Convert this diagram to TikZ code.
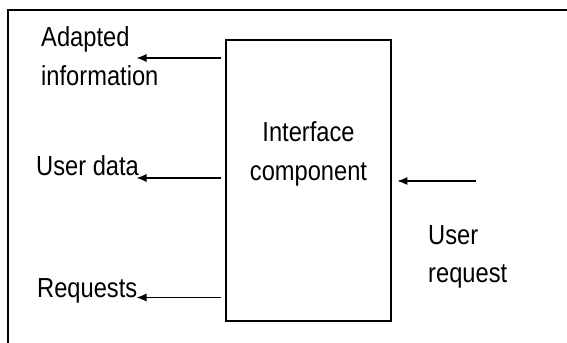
\documentclass[tikz,border=0pt]{standalone}
\usepackage{fontspec}
\setmainfont{Liberation Sans}[FakeStretch=0.86]
\usetikzlibrary{arrows.meta}
% two-line labels whose reference point is the baseline of the first line
\newcommand\stackleft[2]{\vtop{\baselineskip=33pt\hbox{#1}\hbox{#2}}}
\newcommand\stackmid[2]{\vtop{\baselineskip=33pt\halign{\hfil##\hfil\cr#1\cr#2\cr}}}
\begin{document}
\begin{tikzpicture}[x=0.03cm, y=-0.03cm,
  frame/.style={line width=1.6pt},
  unitbox/.style={draw, line width=1.6pt, minimum width=4.95cm, minimum height=8.43cm, inner sep=0pt},
  lbl/.style={font=\fontsize{23.5}{33}\selectfont, inner sep=0pt, anchor=base west},
  outflow/.style={line width=1.7pt, shorten <=3.4pt, -{Latex[length=9pt,width=7pt]}},
  inflow/.style={line width=1.7pt, shorten >=4.2pt, -{Latex[length=9pt,width=7pt]}}]
\useasboundingbox (0,0) rectangle (567,343);

% open outer frame (top and left sides only)
\draw[frame] (567,10) -- (8,10) -- (8,343);

% central component
\node[unitbox] (box) at (308.5,180.5) {};
\node[lbl, anchor=base] (iface) at (308.5,142) {\stackmid{Interface}{component}};

% labels
\node[lbl] (adapted) at (41,46.7) {\stackleft{Adapted}{information}};
\node[lbl] (udata) at (36,176) {User data};
\node[lbl] (reqs) at (37,297) {Requests};
\node[lbl] (ureq) at (428,244) {\stackleft{User}{request}};

% arrow ends
\coordinate (t1) at (136,58);
\coordinate (t2) at (136,178);
\coordinate (t3) at (136,297.5);
\coordinate (s4) at (476,181);

% flows
\draw[outflow] (box.west |- t1) -- (t1);
\draw[outflow] (box.west |- t2) -- (t2);
\draw[outflow] (box.west |- t3) -- (t3);
\draw[inflow] (s4) -- (box.east |- s4);
\end{tikzpicture}
\end{document}
